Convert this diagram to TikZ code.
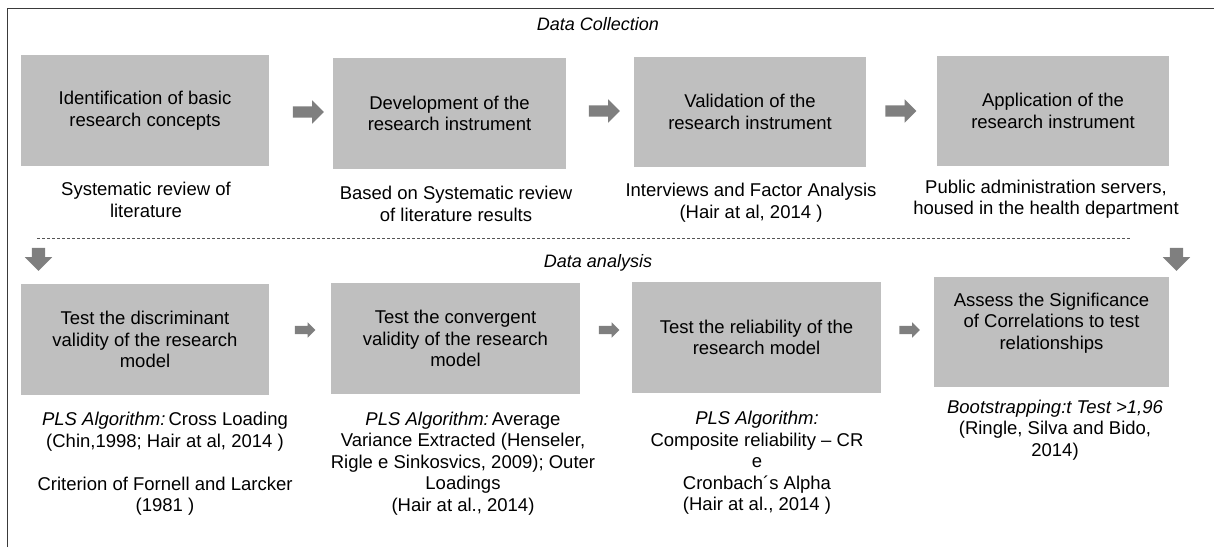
\documentclass[tikz,border=0pt]{standalone}
\usepackage{fontspec}
\setmainfont{Liberation Sans}
\usetikzlibrary{shapes.arrows}

\definecolor{boxgray}{HTML}{BFBFBF}
\definecolor{arrowgray}{HTML}{7F7F7F}
\definecolor{framegray}{HTML}{3A3A3A}
\definecolor{dashgray}{HTML}{555555}

\begin{document}
\begin{tikzpicture}[x=1pt,y=-1pt,
  every node/.style={font=\fontsize{18.5}{21.5}\selectfont, text=black},
  stage/.style={fill=boxgray, draw=none, align=center, inner sep=0pt},
  note/.style={align=center, inner sep=0pt},
  heading/.style={font=\fontsize{18}{20}\selectfont\itshape, inner sep=0pt},
  bigarrow/.style={single arrow, fill=arrowgray, draw=none, minimum height=31pt,
    inner sep=5.5pt, single arrow head extend=6pt},
  smallarrow/.style={single arrow, fill=arrowgray, draw=none, minimum height=20.5pt,
    inner sep=4pt, single arrow head extend=3.5pt},
  downarrow/.style={single arrow, fill=arrowgray, draw=none, minimum height=23pt,
    inner sep=6.5pt, single arrow head extend=7pt, shape border rotate=270}
]
\useasboundingbox (0,0) rectangle (1214,547);

% open frame: left and top edges
\draw[framegray, line width=1pt] (7,547) -- (7,8) -- (1214,8);

% section headings
\node[heading] (hcollect) at (598,24) {Data Collection};
\node[heading] (hanalysis) at (598,263) {Data analysis};

% separator between the two phases
\coordinate (sepL) at (37,238);
\coordinate (sepR) at (1130,238);
\draw[dashgray, line width=0.7pt, dash pattern=on 3pt off 2pt] (sepL) -- (sepR);

% data collection stages
\node[stage, minimum width=248pt, minimum height=111pt] (b1) at (145,110.5)
  {Identification of basic\\research concepts};
\node[stage, minimum width=233pt, minimum height=111pt] (b2) at (449.5,113.5)
  {Development of the\\research instrument};
\node[stage, minimum width=232pt, minimum height=110pt] (b3) at (750,112)
  {Validation of the\\research instrument};
\node[stage, minimum width=232pt, minimum height=110pt] (b4) at (1053,111)
  {Application of the\\research instrument};

\node[note] (n1) at (146,200) {Systematic review of\\literature};
\node[note] (n2) at (456,204) {Based on Systematic review\\of literature results};
\node[note] (n3) at (751,202.5) {Interviews and Factor Analysis\\(Hair at al, 2014 )};
\node[note] (n4) at (1046,199) {Public administration servers,\\housed in the health department};

\node[bigarrow] (a12) at (305.5,112) {};
\node[bigarrow] (a23) at (601.5,111) {};
\node[bigarrow] (a34) at (898,111) {};

% transitions into the analysis phase
\node[downarrow] (dl) at (38.5,256) {};
\node[downarrow] (dr) at (1176.5,256) {};

% data analysis stages
\node[stage, minimum width=248pt, minimum height=111pt] (b5) at (145,339.5)
  {Test the discriminant\\validity of the research\\model};
\node[stage, minimum width=249pt, minimum height=111pt] (b6) at (455.5,338.5)
  {Test the convergent\\validity of the research\\model};
\node[stage, minimum width=249pt, minimum height=111pt] (b7) at (756.5,337.5)
  {Test the reliability of the\\research model};
\node[stage, minimum width=235pt, minimum height=110pt] (b8) at (1051.5,332) {};
\node[note] (b8text) at (1051.5,323)
  {Assess the Significance\\of Correlations to test\\relationships};

\node[note] (n5) at (165,464)
  {\textit{PLS Algorithm:}\,Cross Loading\\(Chin,1998; Hair at al, 2014 )\\[21.5pt]Criterion of Fornell and Larcker\\(1981 )};
\node[note] (n6) at (463,463.5)
  {\textit{PLS Algorithm:}\,Average\\Variance Extracted (Henseler,\\Rigle e Sinkosvics, 2009); Outer\\Loadings\\(Hair at al., 2014)};
\node[note] (n7) at (757,463)
  {\textit{PLS Algorithm:}\\Composite reliability – CR\\e\\Cronbach´s Alpha\\(Hair at al., 2014 )};
\node[note] (n8) at (1055,430)
  {\textit{Bootstrapping:t Test >1,96}\\(Ringle, Silva and Bido,\\2014)};

\node[smallarrow] (a56) at (303,330) {};
\node[smallarrow] (a67) at (607,330) {};
\node[smallarrow] (a78) at (907.5,330) {};
\end{tikzpicture}
\end{document}
